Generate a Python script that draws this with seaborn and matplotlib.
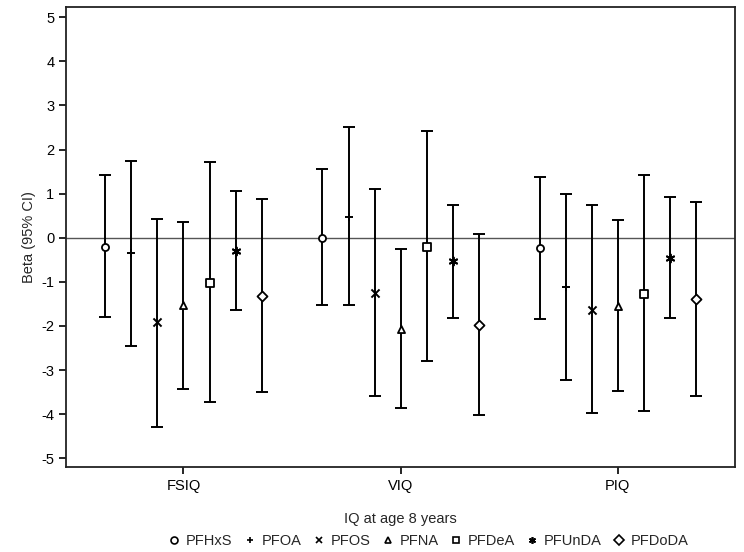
import matplotlib
matplotlib.use('Agg')
import matplotlib.pyplot as plt
import seaborn as sns
import pandas as pd

# Outcomes and exposures
outcomes = ['FSIQ', 'VIQ', 'PIQ']
compounds = ['PFHxS', 'PFOA', 'PFOS', 'PFNA', 'PFDeA', 'PFUnDA', 'PFDoDA']

# Beta estimates (rows = outcomes, columns = compounds)
beta = [[-0.20, -0.35, -1.92, -1.52, -1.02, -0.30, -1.32],
        [0.00, 0.48, -1.25, -2.08, -0.20, -0.52, -1.98],
        [-0.23, -1.12, -1.63, -1.55, -1.27, -0.45, -1.40]]
ci_low = [[-1.80, -2.45, -4.30, -3.42, -3.72, -1.65, -3.50],
          [-1.52, -1.52, -3.60, -3.87, -2.80, -1.83, -4.03],
          [-1.85, -3.22, -3.98, -3.47, -3.93, -1.82, -3.60]]
ci_high = [[1.42, 1.75, 0.43, 0.35, 1.72, 1.05, 0.88],
           [1.55, 2.52, 1.10, -0.25, 2.42, 0.75, 0.08],
           [1.37, 1.00, 0.75, 0.40, 1.42, 0.92, 0.80]]

markers = {'PFHxS': 'o', 'PFOA': '+', 'PFOS': 'x', 'PFNA': '^',
           'PFDeA': 's', 'PFUnDA': (6, 2, 0), 'PFDoDA': 'D'}
line_art = ('PFOA', 'PFOS', 'PFUnDA')

# Long table
rows = []
for i, o in enumerate(outcomes):
    for j, c in enumerate(compounds):
        rows.append({'outcome': o, 'compound': c,
                     'pos': i + (j - 3) * 0.12,
                     'beta': beta[i][j], 'lo': ci_low[i][j], 'hi': ci_high[i][j]})
df = pd.DataFrame(rows)

sns.set_style('ticks')
plt.rcParams['font.family'] = ['Liberation Sans', 'DejaVu Sans']
plt.rcParams['axes.unicode_minus'] = False

fig = plt.figure(figsize=(7.44, 5.52), dpi=100)
ax = fig.add_axes([0.089, 0.154, 0.899, 0.833])

ax.axhline(0, color='#555555', lw=1.0, zorder=1)

# Error bars
ax.errorbar(df['pos'], df['beta'],
            yerr=[df['beta'] - df['lo'], df['hi'] - df['beta']],
            fmt='none', ecolor='black', elinewidth=1.4, capsize=4.5,
            capthick=1.4, zorder=2)

# Point estimates, one compound at a time
for c in compounds:
    sub = df[df['compound'] == c]
    if c in line_art:
        sns.scatterplot(data=sub, x='pos', y='beta', marker=markers[c],
                        color='black', s=34, linewidth=1.4, ax=ax, zorder=3)
    else:
        sns.scatterplot(data=sub, x='pos', y='beta', marker=markers[c],
                        facecolor='white', edgecolor='black', s=26,
                        linewidth=1.3, ax=ax, zorder=3)

ax.set_xlim(-0.54, 2.54)
ax.set_ylim(-5.2, 5.23)
ax.set_xticks(range(len(outcomes)))
ax.set_xticklabels(outcomes)
ax.set_yticks(range(-5, 6))
ax.tick_params(axis='both', direction='out', length=5, width=1.2,
               labelsize=10.5, colors='black')
ax.set_xlabel('IQ at age 8 years', fontsize=10.5, labelpad=14)
ax.set_ylabel('Beta (95% CI)', fontsize=10.5)
for sp in ax.spines.values():
    sp.set_visible(True)
    sp.set_linewidth(1.3)
    sp.set_color('#222222')

# Legend below the plot
handles = []
for c in compounds:
    h = plt.Line2D([], [], linestyle='none', marker=markers[c], markersize=5,
                   markeredgecolor='black',
                   markerfacecolor='black' if c in line_art else 'none',
                   markeredgewidth=1.2, label=c)
    handles.append(h)
fig.legend(handles=handles, loc='center', bbox_to_anchor=(0.575, 0.02),
           ncol=7, frameon=False, fontsize=10.5, handletextpad=0.3,
           columnspacing=0.7, handlelength=1.0)

fig.savefig('out.png', dpi=100)
